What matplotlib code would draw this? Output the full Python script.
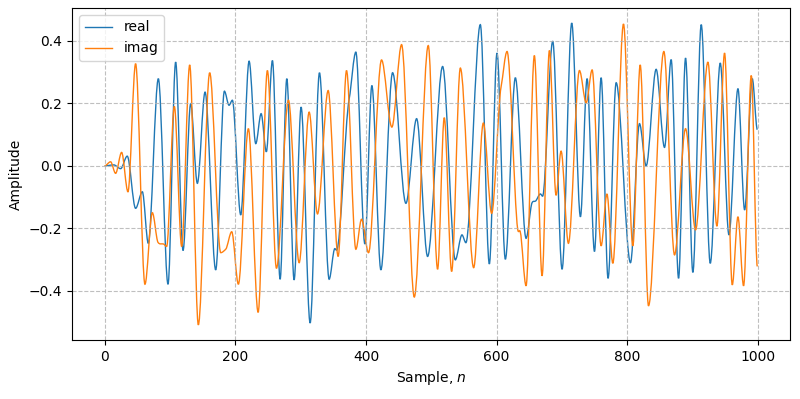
import numpy as np
import matplotlib
matplotlib.use("Agg")
import matplotlib.pyplot as plt
from matplotlib.path import Path
from matplotlib.patches import PathPatch
from matplotlib.lines import Line2D

# turning points (sample index, amplitude)
real_n = [0, 14, 24.5, 34.6, 47.4, 57.7, 66.8, 82.2, 97, 108.7, 120, 131.7, 141.9,
          153.7, 170, 183.3, 190.4, 195.5, 208.3, 221.1, 231.3, 239.5, 247.5, 256.8,
          268.6, 278.8, 290, 300.7, 314.5, 328.8, 343.6, 352.3, 355, 374.3, 384.5,
          398.3, 409, 422.8, 440.7, 461.1, 477.5, 494.3, 517.3, 536.7, 546.9, 552.9,
          575, 588.8, 600.5, 613.3, 628.6, 645, 654.2, 659.3, 666.9, 670.3, 685.8,
          700.1, 714.9, 728.2, 738.4, 749.7, 759.9, 770.5, 782.9, 804.8, 818.6,
          828.8, 844.1, 856.9, 867.1, 878.4, 889.1, 900.3, 913.1, 926.9, 942.2,
          955.5, 969.3, 979.5, 991.2, 999]
real_v = [0.0, 0.003, -0.009, 0.031, -0.136, -0.083, -0.248, 0.279, -0.379, 0.332,
          -0.271, 0.199, -0.056, 0.236, -0.333, 0.239, 0.194, 0.21, -0.157, 0.335,
          0.071, 0.167, 0.045, 0.337, -0.363, 0.279, -0.365, 0.188, -0.503, 0.298,
          -0.363, -0.265, -0.27, 0.215, 0.364, -0.25, 0.257, -0.333, 0.298, -0.12,
          0.151, -0.29, 0.318, -0.301, -0.221, -0.246, 0.452, -0.314, 0.361, -0.299,
          0.282, -0.232, -0.118, -0.113, -0.09, -0.097, 0.399, -0.331, 0.457, -0.163,
          0.279, -0.274, 0.282, -0.36, 0.266, -0.31, 0.135, 0.0, 0.309, 0.059, 0.34,
          -0.36, 0.345, -0.341, 0.452, -0.312, 0.329, -0.221, 0.247, -0.141, 0.279,
          0.116]

imag_n = [0, 9.1, 16.8, 26, 35.7, 47.4, 61.7, 73, 81.7, 89.8, 94.9, 106.7, 117.9,
          130.2, 143.4, 160.8, 177.7, 185.3, 194.5, 204.7, 220, 234.9, 249.1, 263,
          281.3, 297.7, 313, 325.8, 342.1, 357.4, 370.2, 384.5, 393.2, 403.9, 423.8,
          439.6, 454.5, 473.9, 495.3, 509.6, 519.8, 531.1, 544.4, 564.8, 579.6,
          592.3, 606.7, 615.9, 632.2, 636, 645, 657.7, 669.5, 680.7, 690.9, 698.6,
          709.8, 726.7, 737, 746.1, 759.9, 768.8, 777.8, 794.1, 808.4, 819.7, 832.4,
          855.9, 872.2, 889.1, 904.4, 923.3, 937.1, 948.8, 960.6, 969.3, 977.9,
          989.7, 999]
imag_v = [0.0, 0.013, -0.024, 0.043, -0.083, 0.327, -0.379, -0.15, -0.245, -0.25,
          -0.258, 0.19, -0.258, 0.323, -0.509, 0.298, -0.278, -0.267, -0.211, -0.379,
          0.119, -0.469, 0.305, -0.328, 0.21, -0.31, 0.172, -0.154, 0.241, -0.29,
          0.305, -0.267, -0.171, -0.278, 0.339, 0.124, 0.388, -0.42, 0.385, -0.331,
          0.154, -0.338, 0.313, -0.326, 0.137, -0.152, 0.252, 0.366, -0.203, -0.21,
          -0.384, 0.353, -0.352, 0.369, -0.094, 0.047, -0.248, 0.305, 0.202, 0.307,
          -0.256, -0.09, -0.312, 0.454, -0.256, 0.323, -0.448, 0.366, -0.285, 0.119,
          -0.205, 0.332, -0.193, 0.361, -0.381, -0.163, -0.384, 0.289, -0.322]


def smooth_path(xs, ys):
    # cubic bezier through the read points: flat tangent at peaks/troughs,
    # a gentle slope where the curve only has a shoulder
    xs, ys = np.asarray(xs, float), np.asarray(ys, float)
    slope = np.zeros(len(xs))
    for i in range(1, len(xs) - 1):
        a, b = ys[i] - ys[i - 1], ys[i + 1] - ys[i]
        if a * b > 0:
            slope[i] = 0.5 * (ys[i + 1] - ys[i - 1]) / (xs[i + 1] - xs[i - 1])
    verts = [(xs[0], ys[0])]
    codes = [Path.MOVETO]
    for i in range(len(xs) - 1):
        dx = (xs[i + 1] - xs[i]) / 3.0
        verts += [(xs[i] + dx, ys[i] + slope[i] * dx),
                  (xs[i + 1] - dx, ys[i + 1] - slope[i + 1] * dx),
                  (xs[i + 1], ys[i + 1])]
        codes += [Path.CURVE4] * 3
    return Path(verts, codes)


fig, ax = plt.subplots(figsize=(8, 3.99), dpi=100)
for xs, ys, c in [(real_n, real_v, "C0"), (imag_n, imag_v, "C1")]:
    ax.add_patch(PathPatch(smooth_path(xs, ys), fill=False, edgecolor=c, lw=1))
ax.autoscale_view()

handles = [Line2D([], [], color="C0", lw=1), Line2D([], [], color="C1", lw=1)]
ax.legend(handles, ["real", "imag"], loc="upper left")
ax.set_xlabel("Sample, $n$")
ax.set_ylabel("Amplitude")
ax.grid(True, linestyle="--", alpha=0.8)
fig.subplots_adjust(left=0.09, right=0.9875, top=0.98, bottom=0.148)
fig.savefig("out.png")
